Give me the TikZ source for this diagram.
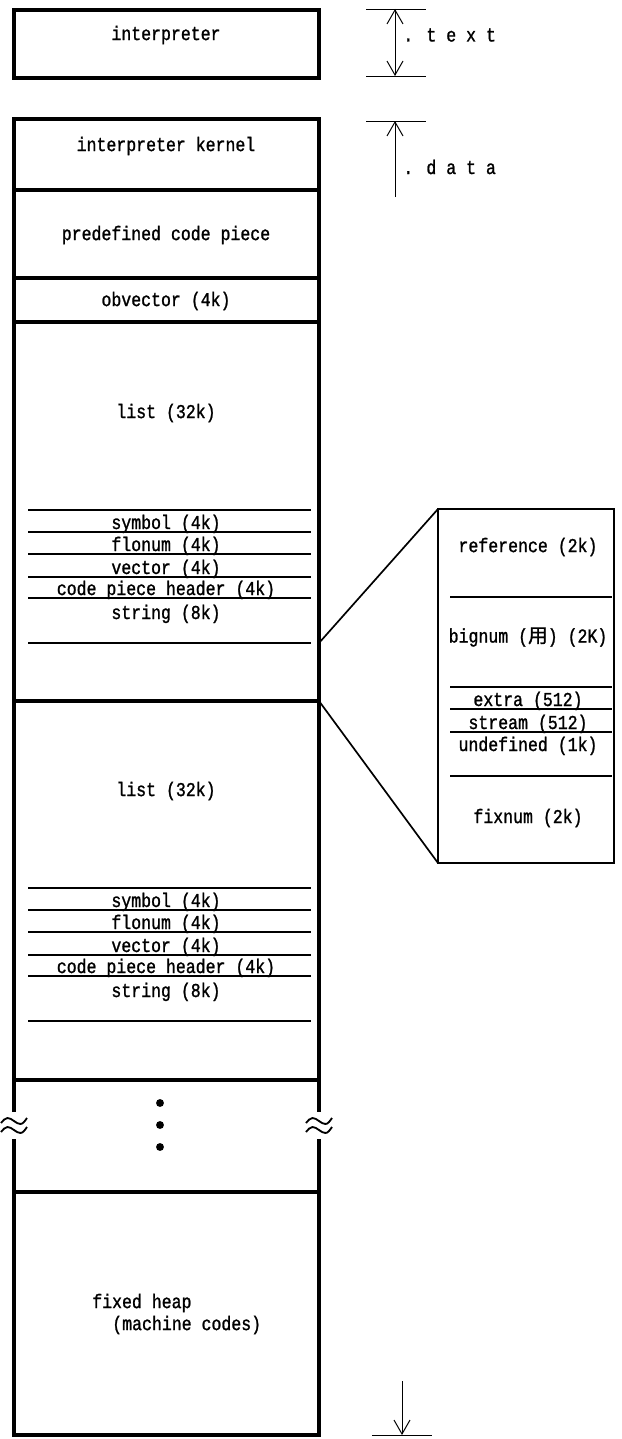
\documentclass[tikz,border=0pt]{standalone}
\usepackage{fontspec}
\setmainfont[FakeStretch=0.84,FakeBold=1.2]{Liberation Mono}
\newfontfamily\cjk[FakeBold=1.2]{Noto Sans CJK JP}
\usetikzlibrary{arrows.meta}

\begin{document}
\begin{tikzpicture}[x=0.025cm,y=-0.025cm,
    every node/.style={font=\fontsize{14}{16}\selectfont,inner sep=0pt},
    heavy/.style={line width=2.2pt},
    divider/.style={line width=0.9pt},
    fine/.style={line width=0.7pt},
    >={Straight Barb[length=3.5mm,width=4mm]}]

  \useasboundingbox (0,0) rectangle (621,1439);

  % Text segment
  \draw[heavy] (14,10) rectangle (319,78);
  \node (interp) at (166,35) {interpreter};

  % .text extent
  \coordinate (ttop) at (395,9);
  \coordinate (tbot) at (395,76);
  \draw[fine] (366,9) -- (426,9);
  \draw[fine] (366,76) -- (426,76);
  \draw[fine,<->] (ttop) -- (tbot);
  \node[anchor=west] (textlbl) at (403,35) {. t e x t};

  % .data extent
  \coordinate (dtop) at (395,121);
  \coordinate (dbot) at (395,197);
  \draw[fine] (366,121) -- (426,121);
  \draw[fine,->] (dbot) -- (dtop);
  \node[anchor=west] (datalbl) at (403,167) {. d a t a};

  % Data segment column (broken by the wavy marks)
  \draw[heavy] (14,1112) -- (14,119) -- (319,119) -- (319,1112);
  \draw[heavy] (14,1139) -- (14,1435) -- (319,1435) -- (319,1139);
  \foreach \y in {190,278,322,701,1080,1192}
    \draw[heavy] (14,\y) -- (319,\y);

  \node (kernel) at (166,146) {interpreter kernel};
  \node (predef) at (166,235) {predefined code piece};
  \node (obvec) at (166,301) {obvector (4k)};

  % Two list areas
  \foreach \i/\off in {1/0,2/378} {
    \foreach \y in {510,532,554,577,598,643}
      \draw[divider] (28,\y+\off) -- (311,\y+\off);
    \node (list\i) at (166,413+\off) {list (32k)};
    \node[anchor=base] (sym\i) at (166,529+\off) {symbol (4k)};
    \node[anchor=base] (flo\i) at (166,551+\off) {flonum (4k)};
    \node[anchor=base] (vec\i) at (166,574+\off) {vector (4k)};
    \node[anchor=base] (cph\i) at (166,595+\off) {code piece header (4k)};
    \node[anchor=base] (str\i) at (166,619+\off) {string (8k)};
  }

  % Omitted part
  \foreach \y in {1103,1125,1147}
    \fill (160,\y) circle (2.8pt);
  \foreach \x in {14,319} {
    \draw[line width=1.3pt] (\x-13,1123) sin (\x-6.5,1118) cos (\x,1121) sin (\x+6.5,1124) cos (\x+13,1118);
    \draw[line width=1.3pt] (\x-13,1132) sin (\x-6.5,1127) cos (\x,1130) sin (\x+6.5,1133) cos (\x+13,1127);
  }

  % Fixed heap
  \node[anchor=west] (fixed) at (92,1303) {fixed heap};
  \node[anchor=west] (mcodes) at (112,1325) {(machine codes)};
  \coordinate (htop) at (402,1381);
  \coordinate (hbot) at (402,1435);
  \draw[fine] (372,1435) -- (432,1435);
  \draw[fine,->] (htop) -- (hbot);

  % Detail of the area after string
  \coordinate (zoomnw) at (438,509);
  \coordinate (zoomsw) at (438,863);
  \draw[line width=1pt] (zoomnw) rectangle (614,863);
  \foreach \y in {597,687,709,732,776}
    \draw[divider] (450,\y) -- (612,\y);
  \node (ref) at (528,547) {reference (2k)};
  \node (big) at (528,637) {bignum ({\cjk 用}) (2K)};
  \node[anchor=base] (extra) at (528,706) {extra (512)};
  \node[anchor=base] (stream) at (528,729) {stream (512)};
  \node[anchor=base] (undef) at (528,751) {undefined (1k)};
  \node (fix) at (528,818) {fixnum (2k)};

  \coordinate (cut1) at (319,643);
  \coordinate (cut2) at (319,701);
  \draw[line width=1.2pt] (cut1) -- (zoomnw);
  \draw[line width=1.2pt] (cut2) -- (zoomsw);
\end{tikzpicture}
\end{document}
